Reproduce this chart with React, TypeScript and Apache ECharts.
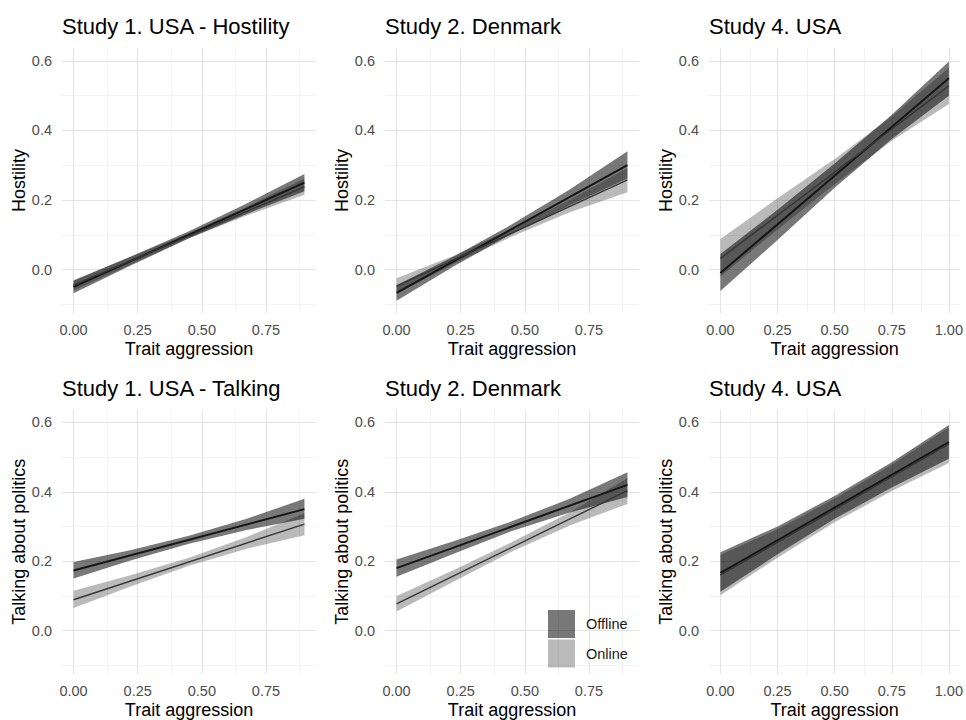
import React, { useEffect, useRef } from 'react';
import * as echarts from 'echarts';

const FONT = '"Liberation Sans", Arial, Helvetica, sans-serif';

// ---- x positions (Trait aggression) ----
const xShort = [0, 0.225, 0.45, 0.675, 0.9];
const xLong = [0, 0.25, 0.5, 0.75, 1.0];
const fitXShort = [0, 0.9];
const fitXLong = [0, 1.0];

// ---- tick labels ----
const xTicksShort = [0, 0.25, 0.5, 0.75];
const xTicksLong = [0, 0.25, 0.5, 0.75, 1.0];
const xMinorShort = [0.125, 0.375, 0.625, 0.875];
const xMinorLong = [0.125, 0.375, 0.625, 0.875];
const yTicks = [0, 0.2, 0.4, 0.6];
const yMinor = [-0.1, 0.1, 0.3, 0.5];

// ---- titles ----
const titles = [
  'Study 1. USA - Hostility',
  'Study 2. Denmark',
  'Study 4. USA',
  'Study 1. USA - Talking',
  'Study 2. Denmark',
  'Study 4. USA',
];
const yTitles = ['Hostility', 'Hostility', 'Hostility', 'Talking about politics', 'Talking about politics', 'Talking about politics'];

// ---- Panel A: Study 1 USA - Hostility ----
const aOffFit = [-0.05, 0.25];
const aOffLo = [-0.068, 0.012, 0.09, 0.16, 0.225];
const aOffHi = [-0.032, 0.038, 0.11, 0.19, 0.275];
const aOnFit = [-0.045, 0.238];
const aOnLo = [-0.06, 0.015, 0.09, 0.155, 0.215];
const aOnHi = [-0.03, 0.037, 0.105, 0.18, 0.262];

// ---- Panel B: Study 2 Denmark - Hostility ----
const bOffFit = [-0.067, 0.3];
const bOffLo = [-0.09, 0.01, 0.103, 0.185, 0.262];
const bOffHi = [-0.045, 0.038, 0.13, 0.23, 0.34];
const bOnFit = [-0.048, 0.258];
const bOnLo = [-0.07, 0.017, 0.095, 0.165, 0.222];
const bOnHi = [-0.025, 0.04, 0.118, 0.2, 0.292];

// ---- Panel C: Study 4 USA - Hostility ----
const cOffFit = [-0.01, 0.55];
const cOffLo = [-0.062, 0.085, 0.235, 0.375, 0.5];
const cOffHi = [0.045, 0.172, 0.305, 0.445, 0.598];
const cOnFit = [0.032, 0.528];
const cOnLo = [-0.02, 0.115, 0.245, 0.37, 0.476];
const cOnHi = [0.088, 0.205, 0.318, 0.44, 0.58];

// ---- Panel D: Study 1 USA - Talking ----
const dOffFit = [0.173, 0.35];
const dOffLo = [0.15, 0.203, 0.25, 0.29, 0.322];
const dOffHi = [0.198, 0.232, 0.273, 0.322, 0.38];
const dOnFit = [0.089, 0.307];
const dOnLo = [0.065, 0.128, 0.187, 0.236, 0.275];
const dOnHi = [0.115, 0.16, 0.21, 0.27, 0.338];

// ---- Panel E: Study 2 Denmark - Talking ----
const eOffFit = [0.18, 0.42];
const eOffLo = [0.155, 0.222, 0.287, 0.34, 0.385];
const eOffHi = [0.205, 0.258, 0.315, 0.38, 0.456];
const eOnFit = [0.077, 0.403];
const eOnLo = [0.055, 0.142, 0.228, 0.303, 0.365];
const eOnHi = [0.1, 0.175, 0.255, 0.34, 0.44];

// ---- Panel F: Study 4 USA - Talking ----
const fOffFit = [0.166, 0.543];
const fOffLo = [0.112, 0.22, 0.322, 0.412, 0.495];
const fOffHi = [0.226, 0.3, 0.388, 0.485, 0.592];
const fOnFit = [0.16, 0.538];
const fOnLo = [0.102, 0.21, 0.312, 0.402, 0.483];
const fOnHi = [0.218, 0.292, 0.38, 0.478, 0.585];

const panels = [
  { xs: xShort, fx: fitXShort, long: false, off: [aOffFit, aOffLo, aOffHi], on: [aOnFit, aOnLo, aOnHi] },
  { xs: xShort, fx: fitXShort, long: false, off: [bOffFit, bOffLo, bOffHi], on: [bOnFit, bOnLo, bOnHi] },
  { xs: xLong, fx: fitXLong, long: true, off: [cOffFit, cOffLo, cOffHi], on: [cOnFit, cOnLo, cOnHi] },
  { xs: xShort, fx: fitXShort, long: false, off: [dOffFit, dOffLo, dOffHi], on: [dOnFit, dOnLo, dOnHi] },
  { xs: xShort, fx: fitXShort, long: false, off: [eOffFit, eOffLo, eOffHi], on: [eOnFit, eOnLo, eOnHi] },
  { xs: xLong, fx: fitXLong, long: true, off: [fOffFit, fOffLo, fOffHi], on: [fOnFit, fOnLo, fOnHi] },
];

const OFF_FILL = 'rgba(0,0,0,0.53)';
const ON_FILL = 'rgba(0,0,0,0.27)';
const OFF_LINE = '#161616';
const ON_LINE = '#363636';
const MAJOR = '#e4e4e4';
const MINOR = '#f0f0f0';

const LEFTS = [62, 385, 709];
const TOPS = [48, 409.5];
const W = 254;
const H = 265;

function buildOption() {
  const grid: any[] = [];
  const xAxis: any[] = [];
  const yAxis: any[] = [];
  const series: any[] = [];
  const title: any[] = [];

  panels.forEach((p, i) => {
    const col = i % 3;
    const row = Math.floor(i / 3);
    grid.push({ left: LEFTS[col], top: TOPS[row], width: W, height: H, containLabel: false });
    const xmax = p.xs[p.xs.length - 1];
    const pad = xmax * 0.05;
    const xTicks = p.long ? xTicksLong : xTicksShort;
    const xMinor = p.long ? xMinorLong : xMinorShort;
    xAxis.push({
      type: 'value', gridIndex: i, min: -pad, max: xmax + pad,
      axisLine: { show: false }, axisTick: { show: false, customValues: xTicks }, splitLine: { show: false },
      axisLabel: {
        customValues: xTicks, margin: 9, fontSize: 14.5, color: '#4d4d4d', fontFamily: FONT,
        formatter: (v: number) => v.toFixed(2), showMinLabel: true, showMaxLabel: true,
      },
      name: 'Trait aggression', nameLocation: 'middle', nameGap: 27,
      nameTextStyle: { fontSize: 18, color: '#000', fontFamily: FONT },
    });
    yAxis.push({
      type: 'value', gridIndex: i, min: -0.125, max: 0.637,
      axisLine: { show: false }, axisTick: { show: false, customValues: yTicks }, splitLine: { show: false },
      axisLabel: {
        customValues: yTicks, margin: 10, fontSize: 14.5, color: '#4d4d4d', fontFamily: FONT,
        formatter: (v: number) => v.toFixed(1),
      },
      name: yTitles[i], nameLocation: 'middle', nameGap: 34,
      nameTextStyle: { fontSize: 18, color: '#000', fontFamily: FONT },
    });
    title.push({
      text: titles[i], left: LEFTS[col], top: row === 0 ? 15 : 377, padding: 0,
      textStyle: { fontSize: 22, fontWeight: 'normal', color: '#000', fontFamily: FONT },
    });

    const ml: any[] = [];
    xMinor.forEach((v) => ml.push({ xAxis: v, lineStyle: { color: MINOR, width: 0.8, type: 'solid' } }));
    yMinor.forEach((v) => ml.push({ yAxis: v, lineStyle: { color: MINOR, width: 0.8, type: 'solid' } }));
    xTicks.forEach((v) => ml.push({ xAxis: v, lineStyle: { color: MAJOR, width: 1.1, type: 'solid' } }));
    yTicks.forEach((v) => ml.push({ yAxis: v, lineStyle: { color: MAJOR, width: 1.1, type: 'solid' } }));
    series.push({
      type: 'line', name: 'grid' + i, xAxisIndex: i, yAxisIndex: i, data: [[0, 0]], symbol: 'none',
      lineStyle: { opacity: 0, width: 0 }, silent: true, z: 0,
      markLine: { silent: true, z: 0, symbol: ['none', 'none'], label: { show: false }, animation: false, data: ml },
    });

    const ribbon = (name: string, lo: number[], hi: number[], color: string, z: number) => ({
      type: 'custom', name, xAxisIndex: i, yAxisIndex: i, silent: true, clip: false, z,
      itemStyle: { color },
      data: p.xs.map((x, k) => [x, lo[k], hi[k]]),
      encode: { x: 0, y: [1, 2] },
      renderItem: (params: any, api: any) => {
        if (params.dataIndex !== 0) return null;
        const pts: number[][] = [];
        for (let k = 0; k < p.xs.length; k++) pts.push(api.coord([p.xs[k], hi[k]]));
        for (let k = p.xs.length - 1; k >= 0; k--) pts.push(api.coord([p.xs[k], lo[k]]));
        return { type: 'polygon', shape: { points: pts }, style: { fill: color, stroke: 'none' } };
      },
    });
    series.push(ribbon('Offline', p.off[1], p.off[2], OFF_FILL, 2));
    series.push(ribbon('Online', p.on[1], p.on[2], ON_FILL, 3));
    const line = (name: string, fit: number[], color: string, width: number) => ({
      type: 'line', name, xAxisIndex: i, yAxisIndex: i, symbol: 'none', silent: true, z: 4,
      data: p.fx.map((x, k) => [x, fit[k]]),
      lineStyle: { color, width },
    });
    series.push(line('Offline fit', p.off[0], OFF_LINE, 2));
    series.push(line('Online fit', p.on[0], ON_LINE, 1.4));
  });

  return {
    animation: false,
    backgroundColor: '#ffffff',
    title,
    grid,
    xAxis,
    yAxis,
    series,
    legend: {
      left: 548, top: 610, orient: 'vertical', itemWidth: 27, itemHeight: 28, itemGap: 1.5, icon: 'rect',
      selectedMode: false, padding: 0, z: 10,
      data: [
        { name: 'Offline', itemStyle: { color: OFF_FILL } },
        { name: 'Online', itemStyle: { color: ON_FILL } },
      ],
      textStyle: { fontSize: 14.5, color: '#1a1a1a', fontFamily: FONT, padding: [0, 0, 0, 6] },
    },
  };
}

export default function App() {
  const ref = useRef<HTMLDivElement>(null);
  useEffect(() => {
    document.body.style.margin = '0';
    if (!ref.current) return;
    const chart = echarts.init(ref.current, undefined, { renderer: 'svg' });
    chart.setOption(buildOption() as any);
    return () => chart.dispose();
  }, []);
  return <div ref={ref} style={{ width: 966, height: 720 }} />;
}
